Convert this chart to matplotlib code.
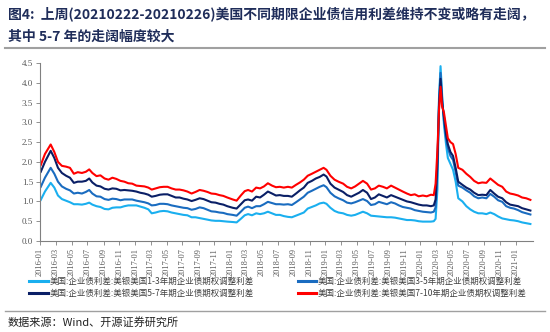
import matplotlib
matplotlib.use("Agg")
import matplotlib.pyplot as plt
import pandas as pd

dates = ["2016-01-04","2016-01-20","2016-02-11","2016-02-25","2016-03-10","2016-03-25","2016-04-10","2016-04-25",
"2016-05-10","2016-05-25","2016-06-10","2016-06-25","2016-07-08","2016-07-20","2016-08-05","2016-08-20",
"2016-09-05","2016-09-20","2016-10-05","2016-10-20","2016-11-05","2016-11-20","2016-12-05","2016-12-20",
"2017-01-05","2017-01-20","2017-02-05","2017-02-20","2017-03-05","2017-03-20","2017-04-05","2017-04-20",
"2017-05-05","2017-05-20","2017-06-05","2017-06-20","2017-07-05","2017-07-20","2017-08-05","2017-08-20",
"2017-09-05","2017-09-20","2017-10-05","2017-10-20","2017-11-05","2017-11-20","2017-12-05","2017-12-20",
"2018-01-10","2018-01-25","2018-02-10","2018-02-25","2018-03-10","2018-03-25","2018-04-10","2018-04-25",
"2018-05-10","2018-05-25","2018-06-10","2018-06-25","2018-07-10","2018-07-25","2018-08-10","2018-08-25",
"2018-09-10","2018-09-25","2018-10-10","2018-10-25","2018-11-10","2018-11-25","2018-12-10","2018-12-25",
"2019-01-05","2019-01-20","2019-02-05","2019-02-20","2019-03-10","2019-03-25","2019-04-10","2019-04-25",
"2019-05-10","2019-05-25","2019-06-10","2019-06-25","2019-07-10","2019-07-25","2019-08-10","2019-08-25",
"2019-09-10","2019-09-25","2019-10-10","2019-10-25","2019-11-10","2019-11-25","2019-12-10","2019-12-25",
"2020-01-10","2020-01-25","2020-02-10","2020-02-21","2020-02-28","2020-03-06","2020-03-12","2020-03-18",
"2020-03-24","2020-03-31","2020-04-08","2020-04-15","2020-04-25","2020-05-05","2020-05-15","2020-05-25",
"2020-06-10","2020-06-25","2020-07-10","2020-07-25","2020-08-10","2020-08-25","2020-09-10","2020-09-25",
"2020-10-10","2020-10-25","2020-11-10","2020-11-25","2020-12-10","2020-12-25","2021-01-10","2021-01-25",
"2021-02-10","2021-02-26"]

spread_1_3 = [1.04,1.25,1.47,1.35,1.15,1.06,1.02,0.98,0.93,0.93,0.92,0.94,0.97,0.92,0.88,0.86,
0.81,0.80,0.84,0.85,0.85,0.88,0.90,0.90,0.90,0.87,0.84,0.80,0.70,0.72,0.75,0.76,
0.75,0.72,0.70,0.68,0.66,0.65,0.60,0.60,0.58,0.56,0.54,0.52,0.51,0.51,0.50,0.49,
0.48,0.47,0.56,0.65,0.68,0.65,0.70,0.68,0.70,0.74,0.70,0.66,0.66,0.63,0.61,0.60,
0.64,0.68,0.72,0.82,0.86,0.90,0.95,0.97,0.94,0.84,0.76,0.72,0.70,0.66,0.64,0.66,
0.70,0.74,0.70,0.64,0.63,0.62,0.61,0.60,0.60,0.59,0.57,0.55,0.53,0.53,0.52,0.50,
0.49,0.49,0.49,0.50,0.56,1.30,3.60,4.42,3.70,2.95,2.45,2.10,1.95,1.80,1.50,1.08,
1.00,0.88,0.80,0.74,0.70,0.70,0.68,0.72,0.68,0.62,0.57,0.55,0.53,0.52,0.50,0.47,
0.45,0.43]

spread_3_5 = [1.37,1.60,1.85,1.70,1.50,1.38,1.32,1.28,1.20,1.22,1.20,1.24,1.29,1.20,1.13,1.12,
1.06,1.04,1.07,1.06,1.03,1.05,1.05,1.05,1.02,1.00,0.98,0.95,0.90,0.91,0.94,0.94,
0.93,0.90,0.88,0.86,0.84,0.83,0.79,0.81,0.85,0.83,0.79,0.75,0.74,0.72,0.71,0.68,
0.66,0.64,0.74,0.84,0.87,0.83,0.88,0.88,0.93,0.99,0.96,0.93,0.93,0.92,0.93,0.91,
0.98,1.05,1.12,1.22,1.27,1.32,1.37,1.41,1.36,1.22,1.13,1.08,1.03,0.97,0.95,0.98,
1.02,1.06,1.01,0.91,0.93,0.99,0.96,0.93,0.98,0.95,0.90,0.86,0.84,0.82,0.78,0.76,
0.74,0.73,0.72,0.74,0.85,1.80,3.50,4.25,3.60,3.05,2.60,2.35,2.15,2.05,1.75,1.40,
1.35,1.28,1.22,1.13,1.08,1.10,1.08,1.19,1.12,1.03,0.99,0.88,0.84,0.82,0.78,0.73,
0.70,0.67]

spread_5_7 = [1.75,2.00,2.28,2.10,1.85,1.72,1.65,1.60,1.47,1.50,1.50,1.52,1.58,1.48,1.40,1.38,
1.32,1.30,1.33,1.32,1.28,1.29,1.28,1.27,1.25,1.22,1.20,1.17,1.12,1.14,1.17,1.18,
1.18,1.14,1.10,1.10,1.07,1.05,1.01,1.04,1.08,1.06,1.02,0.98,0.97,0.94,0.92,0.88,
0.84,0.82,0.93,1.03,1.05,1.02,1.12,1.10,1.17,1.25,1.20,1.15,1.16,1.14,1.14,1.12,
1.20,1.28,1.35,1.47,1.52,1.58,1.62,1.68,1.63,1.45,1.35,1.30,1.24,1.16,1.12,1.17,
1.22,1.29,1.22,1.06,1.10,1.18,1.14,1.10,1.16,1.12,1.08,1.04,1.00,0.98,0.95,0.92,
0.90,0.90,0.88,0.90,1.05,2.00,3.40,4.10,3.50,3.15,2.70,2.45,2.25,2.15,1.85,1.50,
1.42,1.35,1.30,1.22,1.16,1.17,1.16,1.29,1.20,1.12,1.08,0.98,0.92,0.90,0.88,0.83,
0.80,0.77]

spread_7_10 = [1.92,2.20,2.44,2.25,2.00,1.90,1.88,1.85,1.70,1.74,1.72,1.75,1.81,1.72,1.64,1.66,
1.58,1.55,1.60,1.57,1.52,1.50,1.46,1.45,1.40,1.39,1.38,1.35,1.30,1.33,1.36,1.37,
1.37,1.33,1.30,1.30,1.28,1.25,1.20,1.24,1.29,1.27,1.24,1.20,1.19,1.16,1.14,1.10,
1.05,1.02,1.15,1.26,1.29,1.25,1.35,1.33,1.38,1.46,1.40,1.36,1.37,1.35,1.37,1.35,
1.42,1.48,1.55,1.65,1.70,1.75,1.80,1.85,1.80,1.65,1.55,1.50,1.45,1.37,1.33,1.38,
1.45,1.52,1.45,1.30,1.33,1.40,1.37,1.33,1.40,1.35,1.30,1.25,1.20,1.16,1.18,1.13,
1.15,1.13,1.17,1.16,1.45,2.30,3.30,3.90,3.40,3.25,2.90,2.60,2.50,2.45,2.20,1.85,
1.80,1.70,1.62,1.52,1.46,1.48,1.47,1.58,1.50,1.42,1.37,1.25,1.20,1.18,1.15,1.10,
1.08,1.04]

labels = ["美国:企业债利差:美银美国1-3年期企业债期权调整利差",
          "美国:企业债利差:美银美国3-5年期企业债期权调整利差",
          "美国:企业债利差:美银美国5-7年期企业债期权调整利差",
          "美国:企业债利差:美银美国7-10年期企业债期权调整利差"]
colors = ["#1AAFEF", "#1A6CC0", "#0A1F66", "#FF0000"]

title_l1 = "图4:  上周(20210222-20210226)美国不同期限企业债信用利差维持不变或略有走阔，"
title_l2 = "其中 5-7 年的走阔幅度较大"
source = "数据来源：Wind、开源证券研究所"

CJK = ["Noto Sans CJK SC", "DejaVu Sans"]
SERIF = ["Liberation Serif", "DejaVu Serif"]

W, H = 550, 332
fig = plt.figure(figsize=(W/100, H/100), dpi=100)
fig.patch.set_facecolor("white")

def fx(px): return px / W
def fy(py): return 1 - py / H

ax = fig.add_axes([fx(40), fy(241), fx(533) - fx(40), fy(63) - fy(241)])
x = pd.to_datetime(dates)
series = [spread_1_3, spread_3_5, spread_5_7, spread_7_10]
for s, c, lab in zip(series, colors, labels):
    ax.plot(x, s, color=c, lw=1.5, label=lab)

ax.set_ylim(0, 4.5)
ax.set_yticks([0, 0.5, 1, 1.5, 2, 2.5, 3, 3.5, 4, 4.5])
ax.set_yticklabels([f"{v:.1f}" for v in ax.get_yticks()], fontfamily=SERIF, fontsize=6.5, color="#595959")
ax.set_xlim(pd.Timestamp("2016-01-01"), pd.Timestamp("2021-03-08"))
ticks = pd.date_range("2016-01-01", "2021-01-01", freq="2MS")
ax.set_xticks(ticks)
ax.set_xticklabels([t.strftime("%Y-%m") for t in ticks], rotation=90, fontfamily=SERIF,
                   fontsize=6, color="#595959")
for sp in ["top", "right"]:
    ax.spines[sp].set_visible(False)
for sp in ["left", "bottom"]:
    ax.spines[sp].set_color("#808080")
    ax.spines[sp].set_linewidth(0.8)
ax.tick_params(axis="both", color="#808080", length=3, width=0.6, pad=2)

handles, labs = ax.get_legend_handles_labels()
order = [0, 2, 1, 3]
leg = fig.legend([handles[i] for i in order], [labs[i] for i in order], ncol=2,
                 loc="center", bbox_to_anchor=(fx(278), fy(287.5)), frameon=False,
                 prop={"family": CJK, "size": 6.1}, handlelength=2.2, handletextpad=0.2,
                 columnspacing=5.2, labelspacing=0.4, labelcolor="#404040")
for lh in leg.get_lines():
    lh.set_linewidth(2.2)

fig.text(fx(8), fy(14), title_l1, fontfamily=CJK, fontsize=10, fontweight="bold",
         color="#1F2D5A", va="center", ha="left")
fig.text(fx(8), fy(37), title_l2, fontfamily=CJK, fontsize=10, fontweight="bold",
         color="#1F2D5A", va="center", ha="left")
fig.add_artist(plt.Line2D([fx(5), fx(545)], [fy(48), fy(48)], color="#A0A0A0", lw=1.5))
fig.add_artist(plt.Line2D([fx(5), fx(545)], [fy(311), fy(311)], color="#A0A0A0", lw=1.0))
fig.text(fx(8), fy(322), source, fontfamily=CJK, fontsize=8, color="#222222", va="center", ha="left")

fig.savefig("out.png", dpi=100, facecolor="white")
